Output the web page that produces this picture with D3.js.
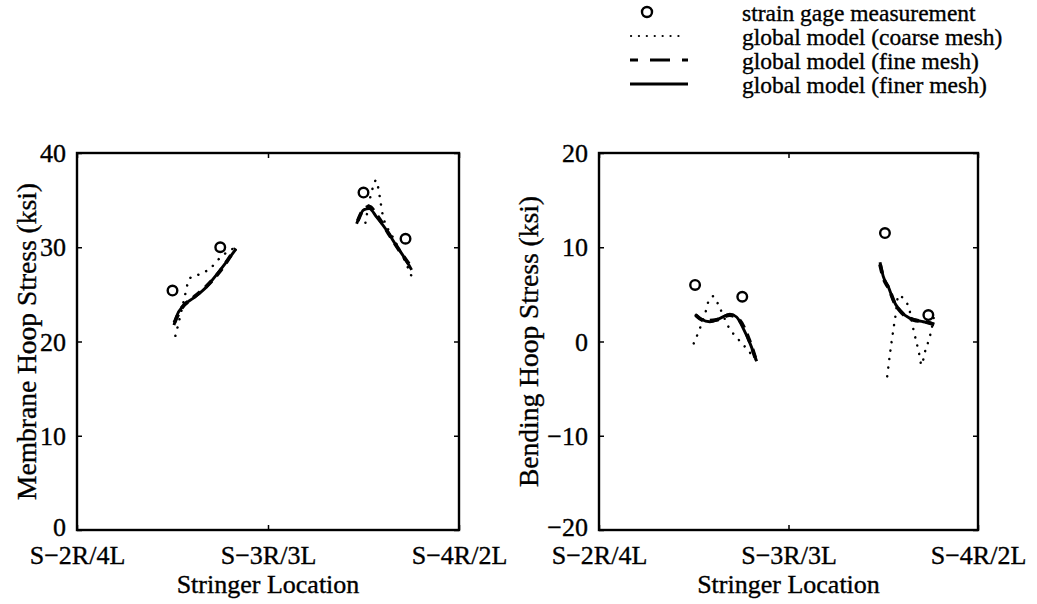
<!DOCTYPE html>
<html><head><meta charset="utf-8">
<script src="https://cdn.jsdelivr.net/npm/d3@7"></script>
<style>
body{margin:0;background:#fff;}
text{font-family:"Liberation Serif","Times New Roman",serif;fill:#000;stroke:#000;stroke-width:0.35px;}
</style></head>
<body><svg id="c" width="1037" height="604"></svg>
<script>
// ---------- data ----------
const xTickLabels = ["S\u22122R/4L","S\u22123R/3L","S\u22124R/2L"];
const xTickValues = [0,1,2];
const membraneTicks = [0,10,20,30,40];
const bendingTicks = [-20,-10,0,10,20];

// Membrane hoop stress (left)
const memGageX = [0.50,0.75,1.50,1.72];
const memGageY = [25.4,30.0,35.8,30.9];
const memCoarse1X = [0.515,0.53,0.56,0.59,0.65,0.70,0.75,0.83];
const memCoarse1Y = [20.6,21.8,24.4,26.7,27.2,27.8,28.9,30.0];
const memCoarse2X = [1.51,1.53,1.55,1.565,1.58,1.59,1.60,1.65,1.70,1.752];
const memCoarse2Y = [32.6,34.8,36.4,37.1,36.0,34.7,33.5,31.2,29.3,26.9];
const memFine1X = [0.51,0.55,0.60,0.68,0.75,0.83];
const memFine1Y = [22.0,23.6,24.5,25.9,27.5,29.9];
const memFine2X = [1.47,1.50,1.53,1.57,1.63,1.69,1.75];
const memFine2Y = [32.8,34.0,34.3,33.4,31.5,29.6,27.9];
const memFiner1X = [0.508,0.52,0.557,0.609,0.679,0.731,0.784,0.832];
const memFiner1Y = [21.75,22.6,23.8,24.6,25.8,27.1,28.5,29.8];
const memFiner2X = [1.464,1.503,1.53,1.569,1.621,1.674,1.717,1.752];
const memFiner2Y = [32.5,34.0,34.1,33.2,31.8,30.1,28.8,27.6];

// Bending hoop stress (right)
const bendGageX = [0.507,0.756,1.509,1.738];
const bendGageY = [6.0,4.75,11.5,2.8];
const bendCoarse1X = [0.50,0.525,0.565,0.582,0.604,0.634,0.688,0.73,0.77,0.83];
const bendCoarse1Y = [-0.2,1.0,3.3,4.5,4.8,3.7,1.4,0.35,-0.55,-2.0];
const bendCoarse2X = [1.521,1.536,1.553,1.565,1.58,1.60,1.636,1.66,1.689,1.702,1.72,1.738,1.755,1.766];
const bendCoarse2Y = [-3.7,-1.25,1.2,2.8,4.9,4.7,3.5,1.2,-1.25,-2.5,-1.1,0.0,1.3,2.5];
const bendFine1X = [0.51,0.56,0.62,0.69,0.74,0.79,0.832];
const bendFine1Y = [2.8,2.2,2.3,2.8,2.3,0.3,-2.2];
const bendFine2X = [1.483,1.50,1.53,1.56,1.60,1.66,1.72,1.77];
const bendFine2Y = [8.2,6.8,5.6,4.1,3.0,2.3,2.1,1.8];
const bendFiner1X = [0.507,0.54,0.585,0.638,0.69,0.726,0.761,0.797,0.832];
const bendFiner1Y = [2.9,2.35,2.1,2.45,2.9,2.6,1.4,-0.2,-2.1];
const bendFiner2X = [1.483,1.50,1.527,1.553,1.588,1.641,1.711,1.764];
const bendFiner2Y = [8.4,6.9,5.8,4.4,3.3,2.45,2.1,1.9];

const legendLabels = ["strain gage measurement","global model (coarse mesh)","global model (fine mesh)","global model (finer mesh)"];

// ---------- drawing ----------
const svg = d3.select("#c");
const zip = (xs, ys) => xs.map((x,i)=>[x, ys[i]]);

function panel(cfg){
  const x = d3.scaleLinear().domain([0,2]).range([cfg.x0, cfg.x1]);
  const y = d3.scaleLinear().domain(cfg.yDomain).range([530,153]);
  const g = svg.append("g");

  g.append("rect").attr("x",cfg.x0).attr("y",153).attr("width",cfg.x1-cfg.x0).attr("height",530-153)
    .attr("fill","none").attr("stroke","#000").attr("stroke-width",2.4);

  const yAxL = d3.axisLeft(y).tickValues(cfg.yTicks).tickSize(-5).tickFormat(d=>d<0?"\u2212"+Math.abs(d):d).tickPadding(11);
  const gl = g.append("g").attr("transform",`translate(${cfg.x0},0)`).call(yAxL);
  gl.select(".domain").remove();
  gl.selectAll("line").attr("stroke-width",1.5);
  gl.selectAll("text").attr("font-size",26).attr("font-family","Liberation Serif").attr("fill","#000")
    .attr("dy",(d,i)=> i===0 ? "0.2em" : "0.33em");
  const yAxR = d3.axisRight(y).tickValues(cfg.yTicks).tickSize(-5).tickFormat("");
  const gr = g.append("g").attr("transform",`translate(${cfg.x1},0)`).call(yAxR);
  gr.select(".domain").remove(); gr.selectAll("line").attr("stroke-width",1.5);

  const xAx = d3.axisBottom(x).tickValues(xTickValues).tickSize(-5).tickFormat((d,i)=>xTickLabels[i]).tickPadding(16);
  const gx = g.append("g").attr("transform","translate(0,530)").call(xAx);
  gx.select(".domain").remove(); gx.selectAll("line").attr("stroke-width",1.5);
  gx.selectAll("text").attr("font-size",26).attr("font-family","Liberation Serif").attr("fill","#000");
  const xAxT = d3.axisTop(x).tickValues(xTickValues).tickSize(-5).tickFormat("");
  const gt = g.append("g").attr("transform","translate(0,153)").call(xAxT);
  gt.select(".domain").remove(); gt.selectAll("line").attr("stroke-width",1.5);

  g.append("text").attr("x",(cfg.x0+cfg.x1)/2).attr("y",593).attr("text-anchor","middle")
    .attr("font-size",26).text("Stringer Location");
  g.append("text").attr("transform",`translate(${cfg.yLabelX},341.5) rotate(-90)`).attr("text-anchor","middle")
    .attr("font-size",27.5).text(cfg.yLabel);

  const line = d3.line().x(d=>x(d[0])).y(d=>y(d[1])).curve(d3.curveMonotoneX);
  cfg.coarse.forEach(s=>g.append("path").attr("d",line(s)).attr("fill","none").attr("stroke","#000")
    .attr("stroke-width",2.5).attr("stroke-linecap","round").attr("stroke-dasharray","0.1 8.5"));
  cfg.fine.forEach(s=>g.append("path").attr("d",line(s)).attr("fill","none").attr("stroke","#000")
    .attr("stroke-width",3.8).attr("stroke-dasharray","9 7"));
  cfg.finer.forEach(s=>g.append("path").attr("d",line(s)).attr("fill","none").attr("stroke","#000")
    .attr("stroke-width",2.9));
  g.selectAll("circle.gage").data(cfg.gage).enter().append("circle").attr("class","gage")
    .attr("cx",d=>x(d[0])).attr("cy",d=>y(d[1])).attr("r",4.8)
    .attr("fill","none").attr("stroke","#000").attr("stroke-width",2.4);
}

panel({x0:77,x1:459,yDomain:[0,40],yTicks:membraneTicks,yLabel:"Membrane Hoop Stress (ksi)",yLabelX:36,
  gage:zip(memGageX,memGageY),
  coarse:[zip(memCoarse1X,memCoarse1Y),zip(memCoarse2X,memCoarse2Y)],
  fine:[zip(memFine1X,memFine1Y),zip(memFine2X,memFine2Y)],
  finer:[zip(memFiner1X,memFiner1Y),zip(memFiner2X,memFiner2Y)]});
panel({x0:599,x1:978,yDomain:[-20,20],yTicks:bendingTicks,yLabel:"Bending Hoop Stress (ksi)",yLabelX:538,
  gage:zip(bendGageX,bendGageY),
  coarse:[zip(bendCoarse1X,bendCoarse1Y),zip(bendCoarse2X,bendCoarse2Y)],
  fine:[zip(bendFine1X,bendFine1Y),zip(bendFine2X,bendFine2Y)],
  finer:[zip(bendFiner1X,bendFiner1Y),zip(bendFiner2X,bendFiner2Y)]});

// legend
const lg = svg.append("g");
const rows = [12,36,60,84];
lg.append("circle").attr("cx",647).attr("cy",rows[0]).attr("r",5).attr("fill","none").attr("stroke","#000").attr("stroke-width",2.4);
lg.append("line").attr("x1",631).attr("x2",686).attr("y1",rows[1]).attr("y2",rows[1]).attr("stroke","#000")
  .attr("stroke-width",2.2).attr("stroke-linecap","round").attr("stroke-dasharray","0.1 7.8");
lg.append("line").attr("x1",630).attr("x2",688).attr("y1",rows[2]).attr("y2",rows[2]).attr("stroke","#000")
  .attr("stroke-width",3.2).attr("stroke-dasharray","20 12").attr("stroke-dashoffset",12);
lg.append("line").attr("x1",630).attr("x2",688).attr("y1",rows[3]).attr("y2",rows[3]).attr("stroke","#000").attr("stroke-width",3);
legendLabels.forEach((t,i)=>lg.append("text").attr("x",742).attr("y",rows[i]+9).attr("font-size",23.5).text(t));
</script></body></html>
